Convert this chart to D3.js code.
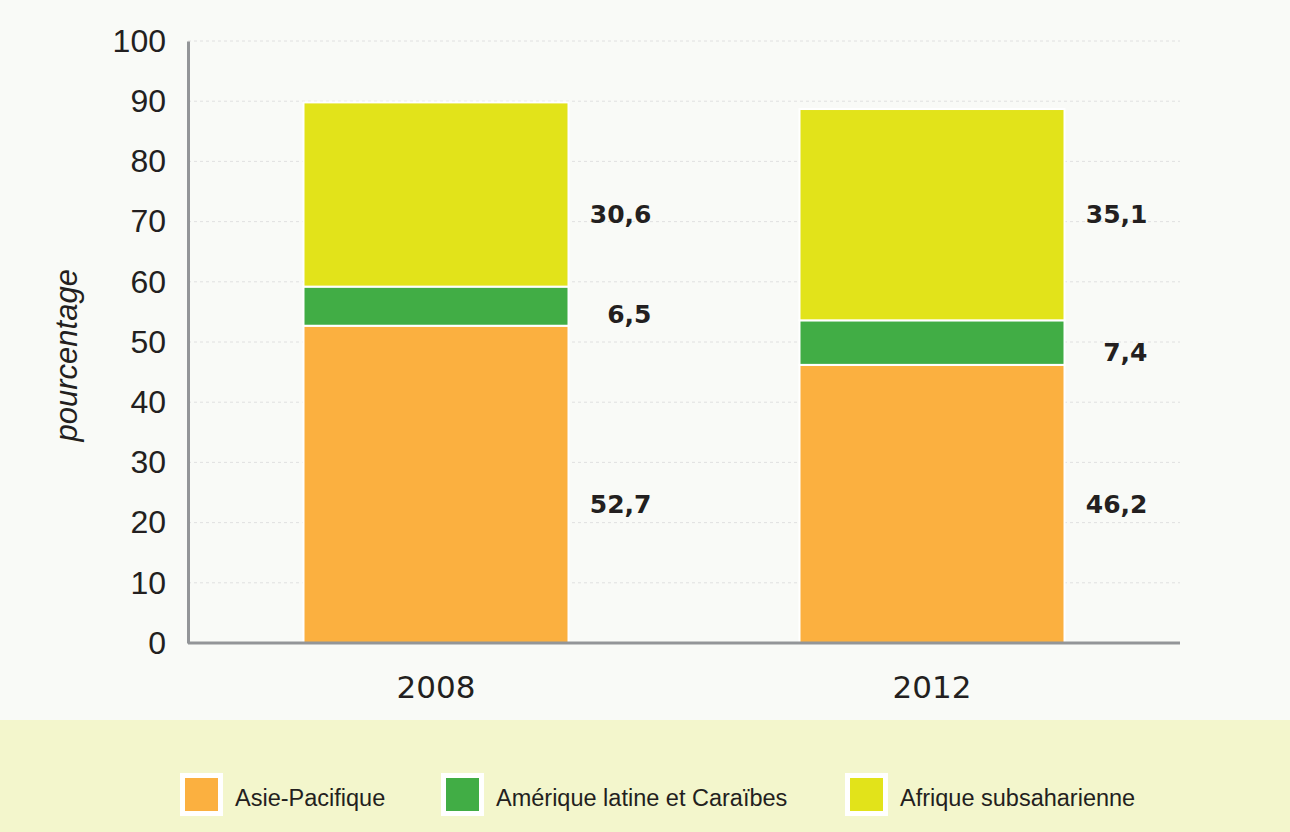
<!DOCTYPE html>
<html>
<head>
<meta charset="utf-8">
<script src="https://cdn.jsdelivr.net/npm/d3@7"></script>
<style>
  body { margin: 0; background: #f9faf7; }
  svg { display: block; }
  .tick text { font-family: "Liberation Sans", Arial, sans-serif; fill: #231f20; }
</style>
</head>
<body>
<div id="chart"></div>
<script>
// Chart data
var years = ["2008", "2012"];
var regions = ["Asie-Pacifique", "Amérique latine et Caraïbes", "Afrique subsaharienne"];
var asiePacifique = [52.7, 46.2];
var ameriqueLatine = [6.5, 7.4];
var afriqueSub = [30.6, 35.1];
// value at which each label sits, per year (asie, amérique, afrique)
var labelAt = [[23.1, 54.7, 71.3], [23.1, 48.3, 71.3]];
var yTicks = [0, 10, 20, 30, 40, 50, 60, 70, 80, 90, 100];
var colors = ["#fbb040", "#41ad45", "#e2e31a"];

var svgWidth = 1290;
var svgHeight = 832;
var margin = { top: 41, right: 110, bottom: 189, left: 188 };
var chartWidth = svgWidth - margin.left - margin.right;
var chartHeight = svgHeight - margin.top - margin.bottom;

var svg = d3.select("#chart")
  .append("svg")
  .attr("width", svgWidth)
  .attr("height", svgHeight);

// Legend band
svg.append("rect")
  .attr("x", 0)
  .attr("y", 720)
  .attr("width", svgWidth)
  .attr("height", svgHeight - 720)
  .attr("fill", "#f3f6cc");

var chartGroup = svg.append("g")
  .attr("transform", `translate(${margin.left}, ${margin.top})`);

// Bar centres along x
var xScale = d3.scalePoint()
  .domain(years)
  .range([248, 744]);
var barWidth = 265;

var yScale = d3.scaleLinear()
  .domain([0, 100])
  .range([chartHeight, 0]);

// Gridlines
chartGroup.append("g")
  .selectAll("line")
  .data(yTicks.filter(d => d > 0))
  .enter()
  .append("line")
  .attr("x1", 0)
  .attr("x2", chartWidth)
  .attr("y1", d => yScale(d))
  .attr("y2", d => yScale(d))
  .attr("stroke", "#e0e0e0")
  .attr("stroke-width", 1)
  .attr("stroke-dasharray", "3,3");

// Stack the series
var rows = years.map((y, i) => ({
  year: y,
  asie: asiePacifique[i],
  amerique: ameriqueLatine[i],
  afrique: afriqueSub[i]
}));
var keys = ["asie", "amerique", "afrique"];
var stack = d3.stack().keys(keys)(rows);

chartGroup.append("g")
  .selectAll("g")
  .data(stack)
  .enter()
  .append("g")
  .attr("fill", (d, i) => colors[i])
  .selectAll("rect")
  .data(d => d)
  .enter()
  .append("rect")
  .attr("x", d => xScale(d.data.year) - barWidth / 2)
  .attr("y", d => yScale(d[1]))
  .attr("width", barWidth)
  .attr("height", d => yScale(d[0]) - yScale(d[1]))
  .attr("stroke", "#ffffff")
  .attr("stroke-width", 2);

// Value labels
keys.forEach(function(k, j) {
  chartGroup.append("g")
    .selectAll("text")
    .data(rows)
    .enter()
    .append("text")
    .attr("x", d => xScale(d.year) + barWidth / 2 + 83)
    .attr("y", (d, i) => yScale(labelAt[i][j]))
    .attr("dy", "0.36em")
    .attr("text-anchor", "end")
    .attr("font-family", "DejaVu Sans, sans-serif")
    .attr("font-weight", "bold")
    .attr("font-size", 25)
    .attr("fill", "#231f20")
    .text(d => d[k].toFixed(1).replace(".", ","));
});

// Axes
var leftAxis = d3.axisLeft(yScale).tickValues(yTicks).tickSize(0).tickPadding(22);
var yAxis = chartGroup.append("g").call(leftAxis);
yAxis.select(".domain").attr("stroke", "#939598").attr("stroke-width", 3);
yAxis.selectAll(".tick text").attr("font-size", 32);

chartGroup.append("line")
  .attr("x1", 0)
  .attr("x2", chartWidth)
  .attr("y1", chartHeight)
  .attr("y2", chartHeight)
  .attr("stroke", "#939598")
  .attr("stroke-width", 3);

chartGroup.append("g")
  .selectAll("text")
  .data(years)
  .enter()
  .append("text")
  .attr("x", d => xScale(d))
  .attr("y", chartHeight + 44)
  .attr("dy", "0.36em")
  .attr("text-anchor", "middle")
  .attr("font-family", "DejaVu Sans, sans-serif")
  .attr("font-size", 31)
  .attr("fill", "#231f20")
  .text(d => d);

// Y axis title
chartGroup.append("text")
  .attr("transform", `translate(-120, ${yScale(47.8)}) rotate(-90)`)
  .attr("text-anchor", "middle")
  .attr("dy", "0.3em")
  .attr("font-family", "Liberation Sans, Arial, sans-serif")
  .attr("font-style", "italic")
  .attr("font-size", 31)
  .attr("fill", "#231f20")
  .text("pourcentage");

// Legend
var legendX = [180, 441, 845];
var legend = svg.append("g")
  .selectAll("g")
  .data(regions)
  .enter()
  .append("g")
  .attr("transform", (d, i) => `translate(${legendX[i]}, 773)`);

legend.append("rect")
  .attr("width", 43)
  .attr("height", 43)
  .attr("fill", "#ffffff");

legend.append("rect")
  .attr("x", 5)
  .attr("y", 5)
  .attr("width", 33)
  .attr("height", 33)
  .attr("fill", (d, i) => colors[i]);

legend.append("text")
  .attr("x", 55)
  .attr("y", 25)
  .attr("dy", "0.36em")
  .attr("font-family", "Liberation Sans, Arial, sans-serif")
  .attr("font-size", 23.5)
  .attr("fill", "#231f20")
  .text(d => d);
</script>
</body>
</html>
